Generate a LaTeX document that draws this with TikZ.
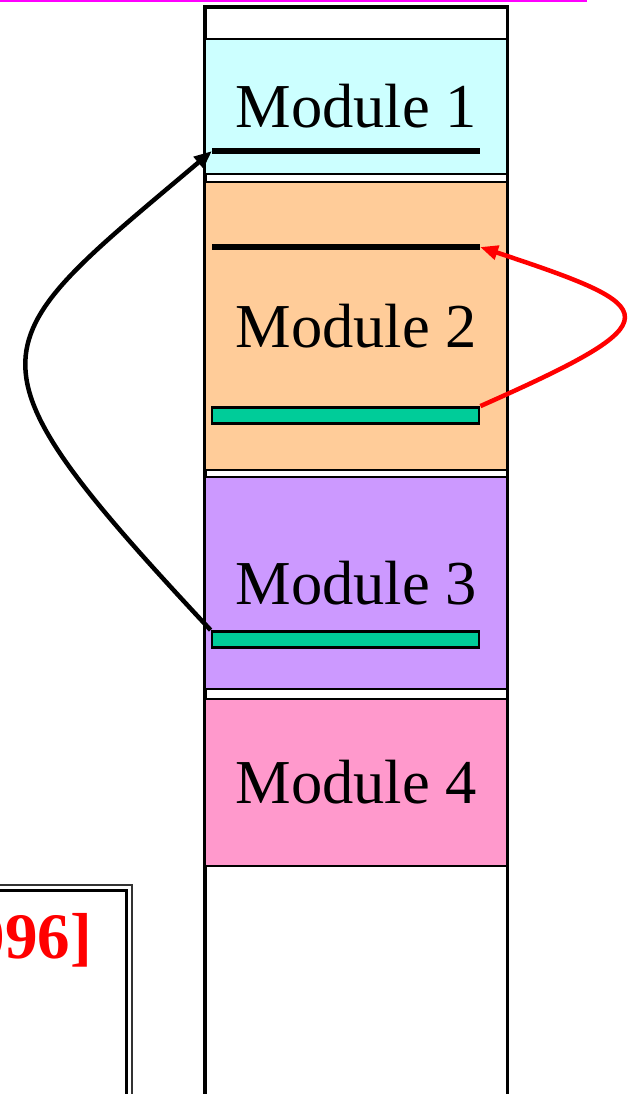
\documentclass[tikz,border=0pt]{standalone}
\usepackage{fontspec}
\setmainfont{Liberation Serif}
\usetikzlibrary{arrows.meta}
\definecolor{modA}{HTML}{CCFFFF}
\definecolor{modB}{HTML}{FFCC99}
\definecolor{modC}{HTML}{CC99FF}
\definecolor{modD}{HTML}{FF99CC}
\definecolor{barfill}{HTML}{00CC99}
\definecolor{rulemag}{HTML}{FF00FF}
\begin{document}
\begin{tikzpicture}[x=1pt,y=1pt,
  module/.style={draw=black, line width=2.8pt, rectangle, inner sep=0pt,
    minimum width=302.5pt, font=\fontsize{62.5}{70}\selectfont},
  bar/.style={draw=black, fill=barfill, line width=2.8pt, rectangle, inner sep=0pt,
    minimum width=267pt, minimum height=16pt},
  heavyline/.style={line width=5.5pt},
  callarrow/.style={line width=4.5pt, -{Triangle[length=18pt,width=14pt]}},
]
\useasboundingbox (0,0) rectangle (628,1094);
\clip (0,0) rectangle (628,1094);

% rule across the top
\draw[rulemag, line width=2.5pt] (0,1093.5) -- (587,1093.5);

% memory column
\draw[line width=3.2pt] (205,-10) -- (205,1087) -- (507.5,1087) -- (507.5,-10);

% modules
\node[module, fill=modA, minimum height=135pt] (m1) at (356.25,987.5) {Module 1};
\node[module, fill=modB, minimum height=288pt] (m2) at (356.25,768) {Module 2};
\node[module, fill=modC, minimum height=212pt] (m3) at (356.25,511) {Module 3};
\node[module, fill=modD, minimum height=167pt] (m4) at (356.25,311.5) {Module 4};

% entry points
\coordinate (l1w) at (212,943);
\coordinate (l1e) at (480,943);
\coordinate (l2w) at (212,847);
\coordinate (l2e) at (480,847);
\draw[heavyline] (l1w) -- (l1e);
\draw[heavyline] (l2w) -- (l2e);

% call sites
\node[bar] (bar2) at (345.5,678.5) {};
\node[bar] (bar3) at (345.5,454.5) {};

% calls
\draw[callarrow, red] (bar2.north east) .. controls (677,775) and (664,786) .. (l2e);
\draw[callarrow, black] (bar3.north west) .. controls (-49,742) and (-20,747) .. (l1w);

% reference box
\draw[black!80, line width=2pt] (-10,209) -- (132,209) -- (132,-10);
\draw[line width=2.8pt] (-10,203.5) -- (126.5,203.5) -- (126.5,-10);
\node[anchor=base east, text=red, inner sep=0pt,
  font=\bfseries\fontsize{65}{70}\selectfont] (cite) at (92,135) {096]};
\end{tikzpicture}
\end{document}
